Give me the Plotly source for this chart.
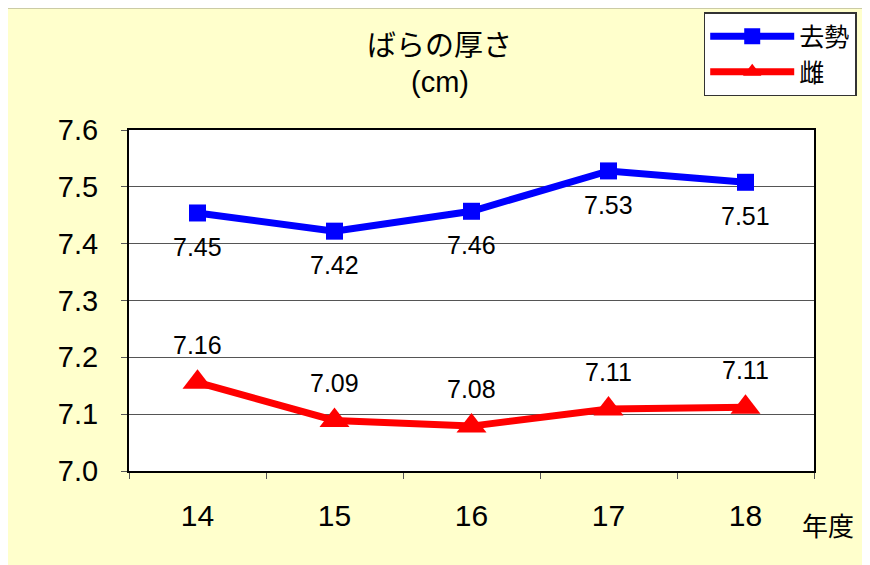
import plotly.graph_objects as go

years = ["14", "15", "16", "17", "18"]
kyosei = [7.454, 7.422, 7.457, 7.528, 7.508]
mesu = [7.156, 7.089, 7.079, 7.109, 7.112]
y_ticks = [7.0, 7.1, 7.2, 7.3, 7.4, 7.5, 7.6]
y_tick_labels = ["7.0", "7.1", "7.2", "7.3", "7.4", "7.5", "7.6"]

FONT = "Liberation Sans, Arial, Noto Sans CJK JP, sans-serif"
JFONT = "Noto Sans CJK JP, sans-serif"

fig = go.Figure()
fig.add_trace(go.Scatter(
    x=years, y=kyosei, name="去勢", mode="lines+markers",
    line=dict(color="#0000FF", width=7),
    marker=dict(symbol="square", size=17, color="#0000FF"),
))
fig.add_trace(go.Scatter(
    x=years, y=mesu, name="雌", mode="lines+markers",
    line=dict(color="#FF0000", width=7),
    marker=dict(symbol="triangle-up", size=26, color="#FF0000"),
))

for i, v in enumerate(kyosei):
    fig.add_annotation(x=i, y=v, text=f"{v:.2f}", showarrow=False,
                       yshift=-34, font=dict(family=FONT, size=25, color="#000000"))
for i, v in enumerate(mesu):
    fig.add_annotation(x=i, y=v, text=f"{v:.2f}", showarrow=False,
                       yshift=37, font=dict(family=FONT, size=25, color="#000000"))

fig.add_annotation(xref="paper", yref="paper", x=0.454, y=1.255,
                   xanchor="center", yanchor="middle",
                   text="ばらの厚さ", showarrow=False,
                   font=dict(family=JFONT, size=29, color="#000000"))
fig.add_annotation(xref="paper", yref="paper", x=0.454, y=1.141,
                   xanchor="center", yanchor="middle",
                   text="(cm)", showarrow=False,
                   font=dict(family=FONT, size=29, color="#000000"))
fig.add_annotation(xref="paper", yref="paper", x=1.020, y=-0.158,
                   xanchor="center", yanchor="middle",
                   text="年度", showarrow=False,
                   font=dict(family=JFONT, size=26, color="#000000"))

# outer chart border
fig.add_shape(type="rect", xref="paper", yref="paper",
              x0=-0.1796, x1=1.2, y0=-0.4, y1=1.3607,
              line=dict(color="#333333", width=2.5), fillcolor="rgba(0,0,0,0)",
              layer="below")

fig.update_layout(
    width=870, height=565,
    margin=dict(l=121, r=64, t=122, b=102, autoexpand=False),
    paper_bgcolor="#FFFFCC",
    plot_bgcolor="#FFFFFF",
    showlegend=True,
    legend=dict(
        x=0.839, y=1.346, xanchor="left", yanchor="top",
        bgcolor="#FFFFFF", bordercolor="#333333", borderwidth=1.5,
        font=dict(family=JFONT, size=25, color="#000000"),
        itemwidth=84, tracegroupgap=0,
    ),
    xaxis=dict(
        type="category", range=[-0.5, 4.5], tickson="boundaries",
        ticks="outside", ticklen=6,
        tickcolor="#555555", showgrid=False, showline=True, linecolor="#000000",
        linewidth=2, mirror=True, ticklabelstandoff=17,
        tickfont=dict(family=FONT, size=30, color="#000000"),
    ),
    yaxis=dict(
        range=[7.0, 7.6], tickvals=y_ticks, ticktext=y_tick_labels,
        ticks="outside", ticklen=6, tickcolor="#555555",
        showgrid=True, gridcolor="#555555", gridwidth=1,
        showline=True, linecolor="#000000", linewidth=2, mirror=True,
        ticklabelstandoff=17, zeroline=False,
        tickfont=dict(family=FONT, size=29, color="#000000"),
    ),
)

fig.write_html("out.html")
